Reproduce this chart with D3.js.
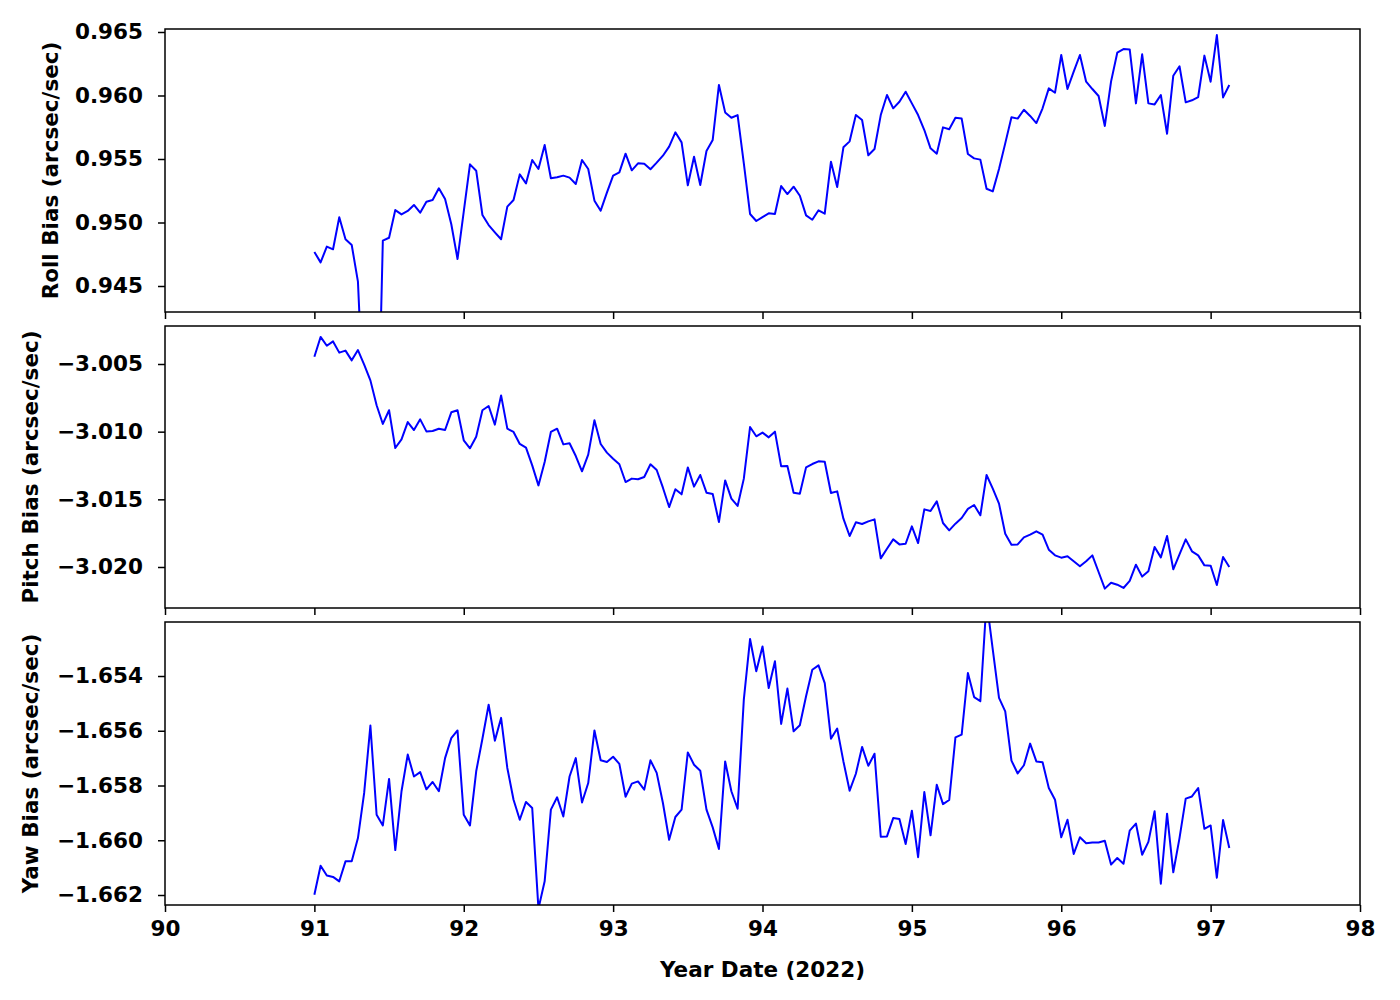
<!DOCTYPE html>
<html>
<head>
<meta charset="utf-8">
<script src="https://cdn.jsdelivr.net/npm/d3@7"></script>
<style>
  html, body { margin: 0; padding: 0; background: #fff; }
  svg text { font-family: "DejaVu Sans", sans-serif; font-weight: bold; }
</style>
</head>
<body>
<svg id="chart" width="1400" height="1000"></svg>
<script>
// Hourly samples starting at day 91 (Year Date 2022)
const sampleStartDay = 91;
const sampleStepDays = 1 / 24;

const rollBias = [
0.94768, 0.94686, 0.94810, 0.94789, 0.95041, 0.94868, 0.94823, 0.94534, 0.9344, 0.9300,
0.9280, 0.94857, 0.94880, 0.95098, 0.95064, 0.95091, 0.95138, 0.95077, 0.95164, 0.95177,
0.95269, 0.95185, 0.94986, 0.94713, 0.95085, 0.95458, 0.95408, 0.95059, 0.94980, 0.94923,
0.94868, 0.95125, 0.95177, 0.95379, 0.95308, 0.95492, 0.95421, 0.95610, 0.95348, 0.95356,
0.95369, 0.95353, 0.95303, 0.95492, 0.95421, 0.95172, 0.95093, 0.95235, 0.95369, 0.95395,
0.95542, 0.95411, 0.95466, 0.95463, 0.95419, 0.95471, 0.95526, 0.95597, 0.95710, 0.95631,
0.95293, 0.95518, 0.95295, 0.95563, 0.95650, 0.96083, 0.95867, 0.95825, 0.95846, 0.95466,
0.95067, 0.95012, 0.95043, 0.95072, 0.95067, 0.95287, 0.95224, 0.95282, 0.95211, 0.95056,
0.95022, 0.95096, 0.95069, 0.95479, 0.95279, 0.95592, 0.95639, 0.95846, 0.95807, 0.95529,
0.95579, 0.95846, 0.96004, 0.95899, 0.95951, 0.96030, 0.95938, 0.95846, 0.95728, 0.95584,
0.95542, 0.95749, 0.95734, 0.95825, 0.95818, 0.95539, 0.95505, 0.95495, 0.95266, 0.95245,
0.95421, 0.95623, 0.95828, 0.95818, 0.95888, 0.95839, 0.95783, 0.95899, 0.96056, 0.96022,
0.96319, 0.96051, 0.96188, 0.96319, 0.96109, 0.96051, 0.95996, 0.95760, 0.96109, 0.96337,
0.96366, 0.96363, 0.95938, 0.96324, 0.95938, 0.95930, 0.96004, 0.95699, 0.96156, 0.96230,
0.95946, 0.95962, 0.95988, 0.96314, 0.96109, 0.96476, 0.95985, 0.96083];

const pitchBias = [
-3.00446, -3.00300, -3.00365, -3.00333, -3.00416, -3.00401, -3.00473, -3.00397, -3.00505, -3.00621,
-3.00805, -3.00943, -3.00842, -3.01121, -3.01057, -3.00929, -3.00988, -3.00909, -3.00998, -3.00995,
-3.00978, -3.00988, -3.00857, -3.00842, -3.01064, -3.01123, -3.01037, -3.00842, -3.00810, -3.00948,
-3.00732, -3.00978, -3.01002, -3.01091, -3.01118, -3.01249, -3.01397, -3.01224, -3.01002, -3.00978,
-3.01094, -3.01086, -3.01180, -3.01293, -3.01170, -3.00916, -3.01091, -3.01155, -3.01200, -3.01241,
-3.01372, -3.01347, -3.01352, -3.01335, -3.01241, -3.01283, -3.01414, -3.01557, -3.01426, -3.01463,
-3.01264, -3.01406, -3.01320, -3.01451, -3.01461, -3.01668, -3.01360, -3.01495, -3.01549, -3.01347,
-3.00966, -3.01034, -3.01007, -3.01042, -3.01000, -3.01256, -3.01254, -3.01451, -3.01458, -3.01264,
-3.01239, -3.01219, -3.01222, -3.01453, -3.01441, -3.01643, -3.01771, -3.01670, -3.01682, -3.01663,
-3.01648, -3.01936, -3.01865, -3.01796, -3.01833, -3.01828, -3.01700, -3.01823, -3.01574, -3.01586,
-3.01515, -3.01675, -3.01729, -3.01680, -3.01638, -3.01571, -3.01542, -3.01618, -3.01320, -3.01421,
-3.01532, -3.01754, -3.01835, -3.01833, -3.01781, -3.01761, -3.01736, -3.01761, -3.01872, -3.01914,
-3.01931, -3.01921, -3.01958, -3.01995, -3.01958, -3.01914, -3.02037, -3.02160, -3.02116, -3.02131,
-3.02155, -3.02103, -3.01983, -3.02071, -3.02032, -3.01852, -3.01929, -3.01771, -3.02017, -3.01906,
-3.01796, -3.01884, -3.01914, -3.01988, -3.01990, -3.02133, -3.01926, -3.02000];

const yawBias = [
-1.66199, -1.66093, -1.66129, -1.66134, -1.66150, -1.66077, -1.66077, -1.65992, -1.65827, -1.65581,
-1.65907, -1.65946, -1.65776, -1.66036, -1.65821, -1.65687, -1.65767, -1.65751, -1.65814, -1.65787,
-1.65821, -1.65700, -1.65627, -1.65599, -1.65907, -1.65946, -1.65748, -1.65629, -1.65505, -1.65636,
-1.65553, -1.65736, -1.65852, -1.65925, -1.65860, -1.65882, -1.66250, -1.66150, -1.65888, -1.65843,
-1.65913, -1.65767, -1.65700, -1.65862, -1.65791, -1.65599, -1.65708, -1.65714, -1.65695, -1.65721,
-1.65841, -1.65793, -1.65785, -1.65815, -1.65708, -1.65754, -1.65864, -1.65998, -1.65915, -1.65888,
-1.65679, -1.65724, -1.65746, -1.65888, -1.65953, -1.66032, -1.65712, -1.65821, -1.65885, -1.65486,
-1.65265, -1.65383, -1.65292, -1.65444, -1.65346, -1.65575, -1.65446, -1.65602, -1.65580, -1.65474,
-1.65377, -1.65361, -1.65426, -1.65629, -1.65592, -1.65712, -1.65819, -1.65757, -1.65659, -1.65728,
-1.65684, -1.65987, -1.65986, -1.65919, -1.65922, -1.66014, -1.65892, -1.66062, -1.65824, -1.65982,
-1.65797, -1.65868, -1.65853, -1.65624, -1.65614, -1.65389, -1.65477, -1.65492, -1.65125, -1.65304,
-1.65480, -1.65529, -1.65709, -1.65756, -1.65726, -1.65647, -1.65712, -1.65715, -1.65809, -1.65852,
-1.65989, -1.65925, -1.66050, -1.65989, -1.66011, -1.66008, -1.66008, -1.66002, -1.66089, -1.66065,
-1.66086, -1.65965, -1.65939, -1.66053, -1.66006, -1.65894, -1.66159, -1.65903, -1.66117, -1.65992,
-1.65848, -1.65840, -1.65809, -1.65958, -1.65946, -1.66137, -1.65926, -1.66028];

const xTicks = [90, 91, 92, 93, 94, 95, 96, 97, 98];
const rollTicks = [0.945, 0.950, 0.955, 0.960, 0.965];
const pitchTicks = [-3.020, -3.015, -3.010, -3.005];
const yawTicks = [-1.662, -1.660, -1.658, -1.656, -1.654];

const panels = [
  { label: "Roll Bias (arcsec/sec)",  values: rollBias,  ticks: rollTicks,  domain: [0.942953, 0.965236], top: 29,  bottom: 312, labelX: 50 },
  { label: "Pitch Bias (arcsec/sec)", values: pitchBias, ticks: pitchTicks, domain: [-3.023030, -3.002192], top: 326, bottom: 608, labelX: 30 },
  { label: "Yaw Bias (arcsec/sec)",   values: yawBias,   ticks: yawTicks,   domain: [-1.662365, -1.652027], top: 622, bottom: 905, labelX: 30 }
];

const left = 165, right = 1360;
const svg = d3.select("#chart");
const x = d3.scaleLinear().domain([90, 98]).range([left, right]);
const times = rollBias.map((_, i) => sampleStartDay + i * sampleStepDays);
const fmt = d3.format(".3f");
const fontSize = 21.5;

panels.forEach((p, k) => {
  const y = d3.scaleLinear().domain(p.domain).range([p.bottom, p.top]);
  const g = svg.append("g");

  const clipId = "clip" + k;
  svg.append("clipPath").attr("id", clipId)
    .append("rect").attr("x", left).attr("y", p.top)
    .attr("width", right - left).attr("height", p.bottom - p.top);

  const line = d3.line().x((d, i) => x(times[i])).y(d => y(d));
  g.append("path").datum(p.values)
    .attr("clip-path", `url(#${clipId})`)
    .attr("fill", "none").attr("stroke", "#0000ff")
    .attr("stroke-width", 2).attr("stroke-linejoin", "round")
    .attr("d", line);

  // y axis
  const ya = g.append("g").attr("transform", `translate(${left},0)`)
    .call(d3.axisLeft(y).tickValues(p.ticks).tickFormat(fmt).tickSize(7).tickPadding(15));
  // x axis
  const xa = g.append("g").attr("transform", `translate(0,${p.bottom})`)
    .call(d3.axisBottom(x).tickValues(xTicks).tickFormat(k === 2 ? d3.format("d") : () => "").tickSize(7).tickPadding(9));
  [ya, xa].forEach(a => {
    a.select(".domain").remove();
    a.selectAll("line").attr("stroke", "#000").attr("stroke-width", 1.5);
    a.selectAll("text").attr("fill", "#000").style("font-size", fontSize + "px");
  });

  // frame
  g.append("rect").attr("x", left).attr("y", p.top)
    .attr("width", right - left).attr("height", p.bottom - p.top)
    .attr("fill", "none").attr("stroke", "#000").attr("stroke-width", 1.5);

  // y label
  svg.append("text")
    .attr("transform", `translate(${p.labelX},${(p.top + p.bottom) / 2}) rotate(-90)`)
    .attr("text-anchor", "middle").attr("dominant-baseline", "central")
    .style("font-size", fontSize + "px")
    .text(p.label);
});

svg.append("text")
  .attr("x", (left + right) / 2).attr("y", 969)
  .attr("text-anchor", "middle").attr("dominant-baseline", "central")
  .style("font-size", fontSize + "px")
  .text("Year Date (2022)");
</script>
</body>
</html>
